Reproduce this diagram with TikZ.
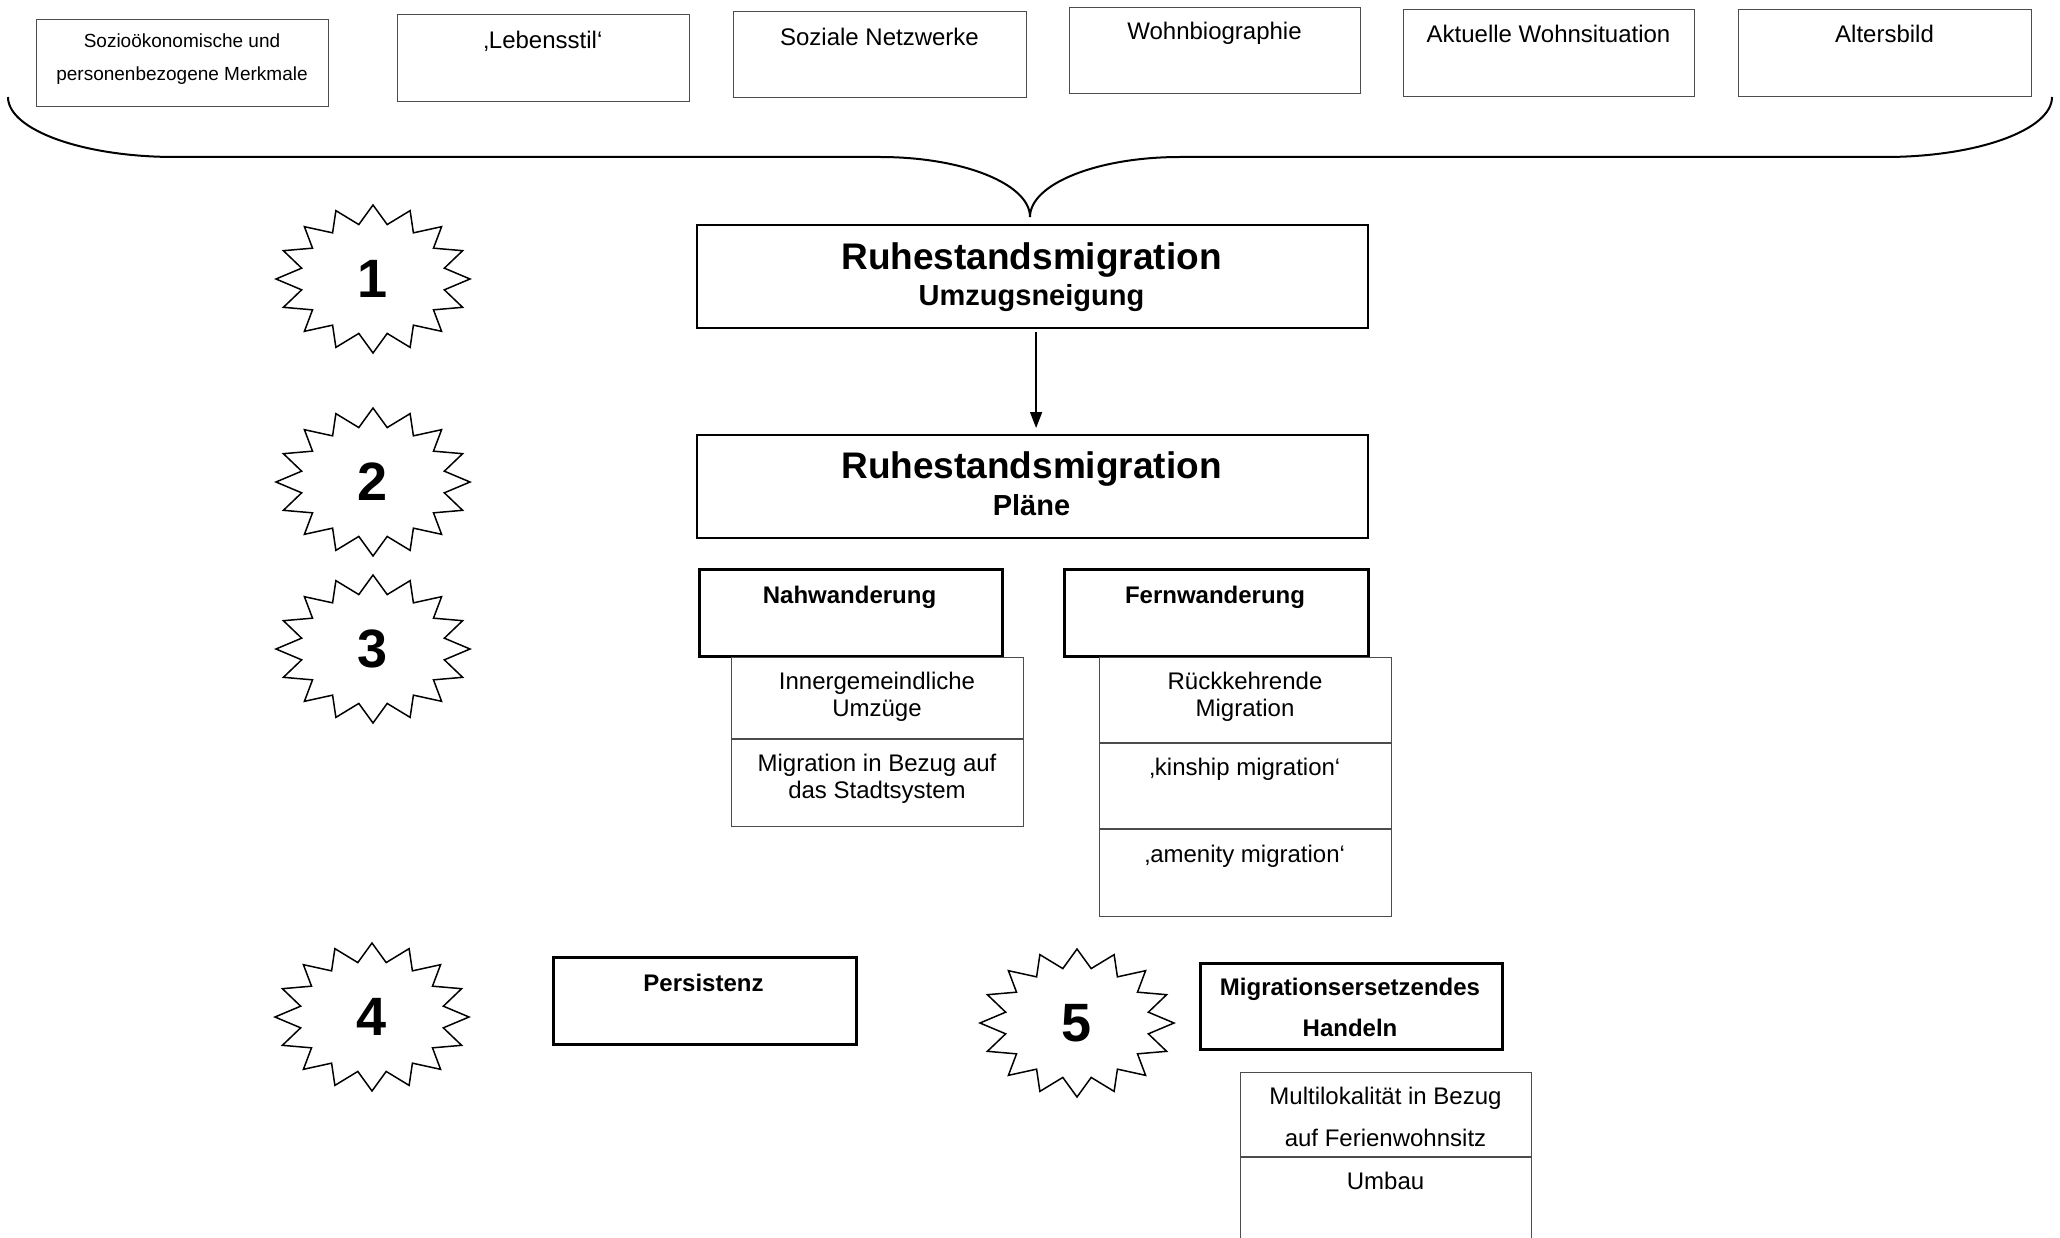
\documentclass[tikz,border=0pt]{standalone}
\usepackage{fontspec}
\setmainfont{Liberation Sans}
\usetikzlibrary{arrows.meta}
\tikzset{
  every node/.style={inner sep=0pt},
  thinbox/.style={draw=black!70, line width=1.3pt},
  midbox/.style={draw=black, line width=2.2pt},
  thickbox/.style={draw=black, line width=3pt},
  listbox/.style={draw=black!70, line width=1.2pt},
  divider/.style={draw=black!70, line width=1.2pt},
  txt/.style={anchor=base, font=\fontsize{24}{28}\selectfont},
  smalltxt/.style={anchor=base, font=\fontsize{19}{22}\selectfont},
  boldtxt/.style={anchor=base, font=\bfseries\fontsize{24}{28}\selectfont},
  bigtxt/.style={anchor=base, font=\bfseries\fontsize{37}{42}\selectfont},
  subtxt/.style={anchor=base, font=\bfseries\fontsize{29}{33}\selectfont},
  numtxt/.style={font=\bfseries\fontsize{54}{60}\selectfont},
  starline/.style={draw=black, line width=1.5pt, line join=miter},
  brace/.style={draw=black, line width=2pt},
  arr/.style={draw=black, line width=1.5pt, -{Triangle[length=16pt,width=12pt]}},
}
\newcommand\mkbox[6]{%
  \pgfmathsetmacro\mybw{#5-#3}%
  \pgfmathsetmacro\mybh{#6-#4}%
  \node[#2, minimum width=\mybw pt, minimum height=\mybh pt, anchor=north west] (#1) at (#3,#4) {};}
\newcommand\burst[4]{%
  \draw[starline, shift={(#2,#3)}] (97,0)
    \foreach \k [evaluate=\k as \rr using {ifthenelse(mod(\k,2)==0,1,0.75)}] in {1,...,31}
      { -- ({97*\rr*cos(\k*11.25)},{74*\rr*sin(\k*11.25)}) } -- cycle;
  \node[numtxt] (#1) at (#2,#3) {#4};}
\begin{document}
\begin{tikzpicture}[x=1pt,y=-1pt]
\useasboundingbox (0,0) rectangle (2060,1238);
\clip (0,0) rectangle (2060,1238);

% top factor boxes
\mkbox{b1}{thinbox}{36}{19}{328}{106}
\mkbox{b2}{thinbox}{397}{14}{689}{101}
\mkbox{b3}{thinbox}{733}{11}{1026}{97}
\mkbox{b4}{thinbox}{1069}{7}{1360}{93}
\mkbox{b5}{thinbox}{1403}{9}{1694}{96}
\mkbox{b6}{thinbox}{1738}{9}{2031}{96}
\node[smalltxt] (t1a) at (182,47.5) {Sozioökonomische und};
\node[smalltxt] (t1b) at (182,80.5) {personenbezogene Merkmale};
\node[txt] (t2) at (543,48.5) {‚Lebensstil‘};
\node[txt] (t3) at (879.5,46) {Soziale Netzwerke};
\node[txt] (t4) at (1214.5,40) {Wohnbiographie};
\node[txt] (t5) at (1548.5,43) {Aktuelle Wohnsituation};
\node[txt] (t6) at (1884.5,43) {Altersbild};

% brace
\draw[brace] (8,97) .. controls (8,130) and (83,157) .. (175,157) -- (880,157)
  .. controls (963,157) and (1030,184) .. (1030,217);
\draw[brace] (1030,217) .. controls (1030,184) and (1097,157) .. (1180,157) -- (1885,157)
  .. controls (1977,157) and (2052,130) .. (2052,97);

% main boxes
\mkbox{r1}{midbox}{696}{224}{1367}{327}
\node[bigtxt] (r1a) at (1031.5,270) {Ruhestandsmigration};
\node[subtxt] (r1b) at (1031.5,306) {Umzugsneigung};
\mkbox{r2}{midbox}{696}{434}{1367}{537}
\node[bigtxt] (r2a) at (1031.5,478) {Ruhestandsmigration};
\node[subtxt] (r2b) at (1031.5,515) {Pläne};
\draw[arr, shorten <=3pt, shorten >=6pt] ([xshift=3.5pt]r1.south) -- ([xshift=3.5pt]r2.north);

% Nah / Fern
\mkbox{nah}{thickbox}{698}{568}{1001}{655}
\node[boldtxt] (nahT) at (849.5,603) {Nahwanderung};
\mkbox{fern}{thickbox}{1063}{568}{1367}{655}
\node[boldtxt] (fernT) at (1215,603) {Fernwanderung};

\mkbox{nl}{listbox}{731}{657}{1023}{826}
\coordinate (nd1) at (0,739);
\draw[divider] (nl.west |- nd1) -- (nl.east |- nd1);
\node[txt] (nl1a) at (877,689) {Innergemeindliche};
\node[txt] (nl1b) at (877,716) {Umzüge};
\node[txt] (nl2a) at (877,771) {Migration in Bezug auf};
\node[txt] (nl2b) at (877,798) {das Stadtsystem};

\mkbox{fl}{listbox}{1099}{657}{1391}{916}
\coordinate (fd1) at (0,743);
\coordinate (fd2) at (0,829);
\draw[divider] (fl.west |- fd1) -- (fl.east |- fd1);
\draw[divider] (fl.west |- fd2) -- (fl.east |- fd2);
\node[txt] (fl1a) at (1245,689) {Rückkehrende};
\node[txt] (fl1b) at (1245,716) {Migration};
\node[txt] (fl2) at (1245,775) {‚kinship migration‘};
\node[txt] (fl3) at (1245,862) {‚amenity migration‘};

% Persistenz
\mkbox{pers}{thickbox}{552}{956}{855}{1043}
\node[boldtxt] (persT) at (703.5,991) {Persistenz};

% Migrationsersetzendes Handeln
\mkbox{mh}{thickbox}{1199}{962}{1501}{1048}
\node[boldtxt] (mhA) at (1350,995) {Migrationsersetzendes};
\node[boldtxt] (mhB) at (1350,1036) {Handeln};
\mkbox{ml}{listbox}{1240}{1072}{1531}{1262}
\coordinate (md1) at (0,1157);
\draw[divider] (ml.west |- md1) -- (ml.east |- md1);
\node[txt] (ml1a) at (1385.5,1104) {Multilokalität in Bezug};
\node[txt] (ml1b) at (1385.5,1146) {auf Ferienwohnsitz};
\node[txt] (ml2) at (1385.5,1189) {Umbau};

% starbursts
\burst{s1}{373}{279}{1}
\burst{s2}{373}{482}{2}
\burst{s3}{373}{649}{3}
\burst{s4}{372}{1017}{4}
\burst{s5}{1077}{1023}{5}
\end{tikzpicture}
\end{document}
